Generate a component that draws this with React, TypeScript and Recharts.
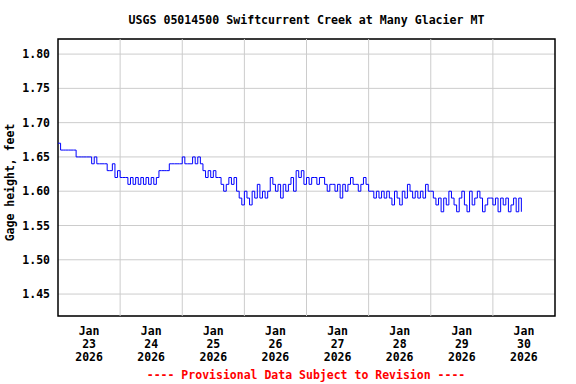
import {
  LineChart,
  Line,
  XAxis,
  YAxis,
  CartesianGrid,
  ReferenceLine,
  ReferenceArea,
} from 'recharts';

// hourly gage height readings (feet), one array per day, starting at midnight
const jan23 = [1.67, 1.66, 1.66, 1.66, 1.66, 1.66, 1.66, 1.65, 1.65, 1.65, 1.65, 1.65, 1.65, 1.64, 1.65, 1.64, 1.64, 1.64, 1.64, 1.63, 1.63, 1.64, 1.62, 1.63];
const jan24 = [1.62, 1.62, 1.62, 1.61, 1.62, 1.61, 1.62, 1.61, 1.62, 1.61, 1.62, 1.61, 1.62, 1.61, 1.62, 1.63, 1.63, 1.63, 1.63, 1.64, 1.64, 1.64, 1.64, 1.64];
const jan25 = [1.65, 1.64, 1.64, 1.64, 1.65, 1.64, 1.65, 1.64, 1.63, 1.62, 1.63, 1.62, 1.63, 1.62, 1.62, 1.61, 1.60, 1.61, 1.62, 1.61, 1.62, 1.60, 1.59, 1.58];
const jan26 = [1.60, 1.59, 1.58, 1.60, 1.59, 1.61, 1.59, 1.60, 1.59, 1.60, 1.62, 1.61, 1.60, 1.61, 1.59, 1.61, 1.60, 1.61, 1.62, 1.60, 1.63, 1.62, 1.63, 1.61];
const jan27 = [1.62, 1.61, 1.62, 1.62, 1.61, 1.62, 1.62, 1.61, 1.60, 1.61, 1.61, 1.60, 1.61, 1.59, 1.61, 1.60, 1.61, 1.62, 1.61, 1.61, 1.60, 1.61, 1.62, 1.61];
const jan28 = [1.60, 1.60, 1.59, 1.60, 1.59, 1.60, 1.59, 1.60, 1.59, 1.58, 1.60, 1.59, 1.58, 1.60, 1.59, 1.61, 1.60, 1.59, 1.60, 1.59, 1.60, 1.59, 1.61, 1.60];
const jan29 = [1.60, 1.59, 1.58, 1.59, 1.57, 1.59, 1.58, 1.60, 1.59, 1.58, 1.57, 1.59, 1.60, 1.58, 1.57, 1.60, 1.58, 1.59, 1.60, 1.59, 1.57, 1.58, 1.59, 1.59];
const jan30 = [1.58, 1.59, 1.57, 1.59, 1.58, 1.59, 1.57, 1.58, 1.59, 1.57, 1.59, 1.57];

const days = [jan23, jan24, jan25, jan26, jan27, jan28, jan29, jan30];

const tickDays = ['23', '24', '25', '26', '27', '28', '29', '30'];
const tickMonth = 'Jan';
const tickYear = '2026';
const yTicks = [1.45, 1.5, 1.55, 1.6, 1.65, 1.7, 1.75, 1.8];
const yDomain = [1.418, 1.822];

const data = days.flatMap((arr, d) => arr.map((v, i) => ({ t: d * 24 + i, gage: v })));
const xTicks = tickDays.map((_, i) => i * 24 + 12);
const midnights = tickDays.slice(1).map((_, i) => (i + 1) * 24);

const FONT = '"DejaVu Sans Mono", monospace';

const DateTick = ({ x, y, payload }: any) => {
  const label = tickDays[Math.round((payload.value - 12) / 24)];
  return (
    <text x={x} y={y} textAnchor="middle" fontFamily={FONT} fontWeight="bold" fontSize={11.5} fill="#000">
      <tspan x={x} dy={10.7}>{tickMonth}</tspan>
      <tspan x={x} dy={12.8}>{label}</tspan>
      <tspan x={x} dy={13.2}>{tickYear}</tspan>
    </text>
  );
};

export default function App() {
  return (
    <div style={{ position: 'absolute', left: 0, top: 0, width: 576, height: 384, background: '#fff' }}>
      <LineChart width={576} height={384} data={data} margin={{ top: 39, right: 21, bottom: 0, left: 0 }}>
        <CartesianGrid vertical={false} stroke="#cccccc" />
        {midnights.map((m) => (
          <ReferenceLine key={m} x={m} stroke="#cccccc" />
        ))}
        <XAxis
          dataKey="t"
          type="number"
          domain={[0, 192]}
          ticks={xTicks}
          tick={<DateTick />}
          tickLine={false}
          axisLine={false}
          height={68}
          interval={0}
        />
        <YAxis
          type="number"
          domain={yDomain}
          ticks={yTicks}
          allowDataOverflow
          width={58}
          tickLine={false}
          axisLine={false}
          interval={0}
          tickFormatter={(v: number) => v.toFixed(2)}
          tick={{ fontFamily: FONT, fontWeight: 'bold', fontSize: 11.5, fill: '#000' }}
        />
        <Line
          type="stepAfter"
          dataKey="gage"
          stroke="#0000ff"
          strokeWidth={1}
          dot={false}
          isAnimationActive={false}
        />
        <ReferenceArea
          x1={0}
          x2={192}
          y1={yDomain[0]}
          y2={yDomain[1]}
          fill="none"
          fillOpacity={0}
          stroke="#000"
          strokeWidth={1.5}
        />
      </LineChart>
      <svg
        width={576}
        height={384}
        style={{ position: 'absolute', left: 0, top: 0, pointerEvents: 'none' }}
        fontFamily={FONT}
        fontWeight="bold"
      >
        <text x={306.5} y={24.2} textAnchor="middle" fontSize={11.6} fill="#000">
          USGS 05014500 Swiftcurrent Creek at Many Glacier MT
        </text>
        <text transform="translate(14, 182.5) rotate(-90)" textAnchor="middle" fontSize={11.5} fill="#000">
          Gage height, feet
        </text>
        <text x={306} y={379} textAnchor="middle" fontSize={11.5} fill="#ff0000">
          ---- Provisional Data Subject to Revision ----
        </text>
      </svg>
    </div>
  );
}
